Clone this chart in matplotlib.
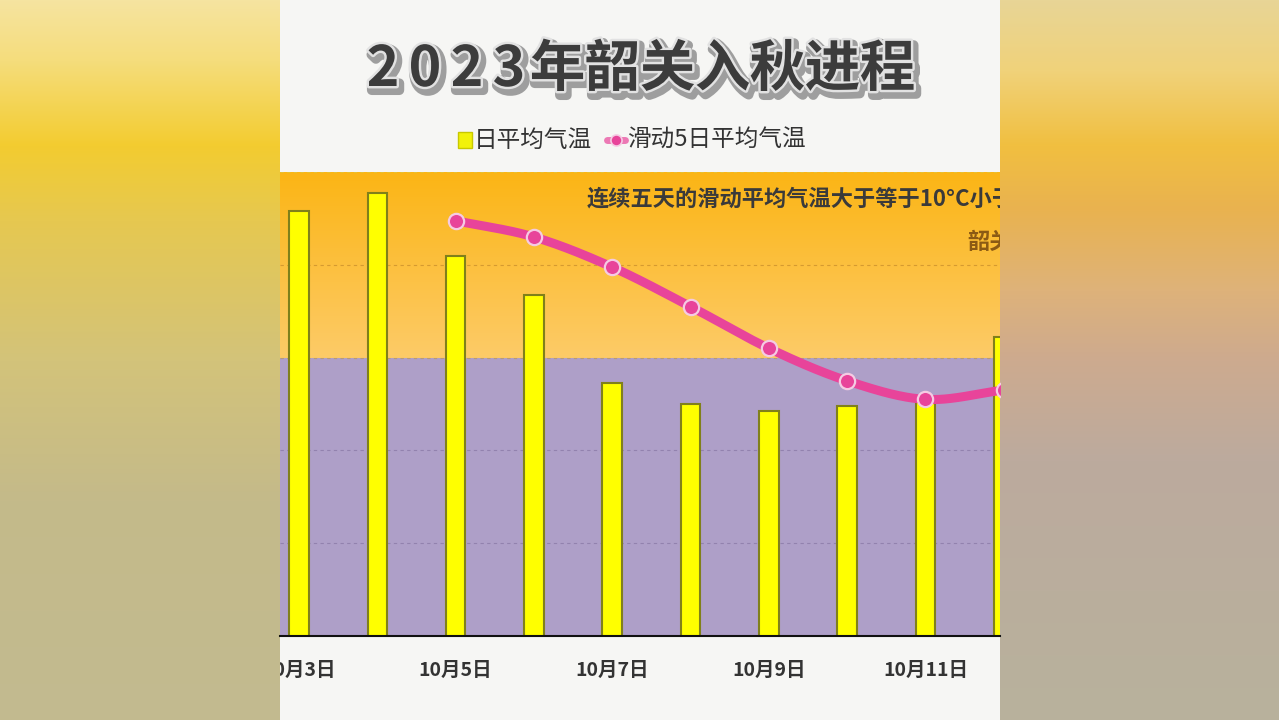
import numpy as np
import matplotlib
matplotlib.use('Agg')
import matplotlib.pyplot as plt
import matplotlib.patheffects as pe
from matplotlib.colors import to_rgb
from matplotlib.patches import Rectangle

# ---------------- data ----------------
dates = ['10月3日', '10月4日', '10月5日', '10月6日', '10月7日',
         '10月8日', '10月9日', '10月10日', '10月11日', '10月12日']
daily_temp = [28.3, 29.1, 26.4, 24.7, 20.9, 20.0, 19.7, 19.9, 20.1, 22.9]
ma_start = 2  # moving average starts at 10月5日
moving_avg = [27.9, 27.2, 25.9, 24.2, 22.4, 21.0, 20.2, 20.6]
threshold = 22
title = '2023年韶关入秋进程'
legend_labels = ['日平均气温', '滑动5日平均气温']
note_text = '连续五天的滑动平均气温大于等于10°C小于22°C'
note_text2 = '韶关入秋'

plt.rcParams['font.family'] = ['Noto Sans CJK SC', 'DejaVu Sans']

W, H = 1279, 720
fig = plt.figure(figsize=(W / 100, H / 100), dpi=100)

# ---------------- background ----------------
bg = fig.add_axes([0, 0, 1, 1])
bg.axis('off')
ys = np.arange(H)


def grad(stops):
    yy = [s[0] for s in stops]
    cols = np.array([to_rgb(s[1]) for s in stops])
    return np.stack([np.interp(ys, yy, cols[:, k]) for k in range(3)], axis=1)


left = grad([(0, '#F5E4A0'), (60, '#F5DD7C'), (145, '#F3CC30'), (220, '#E6C850'),
             (360, '#D3C37A'), (500, '#C4BA8A'), (720, '#C2BA90')])
right = grad([(0, '#E8D596'), (70, '#F0D27A'), (145, '#F1BF40'), (210, '#E9B250'),
              (290, '#DEB27A'), (360, '#CDAA8F'), (460, '#BCAA9E'), (720, '#B8B29C')])
img = np.ones((H, W, 3)) * np.array(to_rgb('#F6F6F4'))
img[:, :280] = left[:, None, :]
img[:, 1000:] = right[:, None, :]
bg.imshow(img, extent=[0, W, H, 0], aspect='auto', zorder=0)
bg.set_xlim(0, W)
bg.set_ylim(H, 0)

# ---------------- title ----------------
x_cur = 362
for ch in title:
    adv = 42 if ch.isdigit() else 55
    bg.text(x_cur + adv / 2, 70, ch, ha='center', va='center', fontsize=40,
            fontweight='heavy', color='#3C3C3C', zorder=5,
            path_effects=[pe.Stroke(linewidth=7, foreground='#9E9E9E', offset=(2, -3)),
                          pe.Stroke(linewidth=3.5, foreground='#E2E2E2'),
                          pe.Normal()])
    x_cur += adv

# ---------------- legend ----------------
bg.add_patch(Rectangle((458, 132), 14, 16, facecolor='#F2F20A', edgecolor='#C8C800',
                       lw=1, zorder=5))
bg.text(474, 140, legend_labels[0], ha='left', va='center', fontsize=17,
        color='#333333', zorder=5)
bg.plot([607, 625], [140, 140], color='#E8449A', lw=5, alpha=0.7, zorder=5,
        solid_capstyle='round')
bg.plot([616], [140], 'o', ms=8, mfc='#E8449A', mec='#F5CBE3', mew=1.2, zorder=6)
bg.text(627, 140, legend_labels[1], ha='left', va='center', fontsize=17,
        color='#333333', zorder=5)

# ---------------- main axes ----------------
ax = fig.add_axes([280 / W, (H - 636) / H, 720 / W, 464 / H])
ax.patch.set_alpha(0)
x = np.arange(len(dates))
px_per_day = 78.3
x0 = (280 - 299) / px_per_day
x1 = (1000 - 299) / px_per_day
ymin, ymax = 10, 30

# orange gradient above threshold
og = grad([(0, '#FBB515'), (720, '#FDCB68')])
ax.imshow(og[:, None, :], extent=[x0, x1, threshold, ymax], aspect='auto', zorder=0)
ax.axhspan(ymin, threshold, color='#AE9FC8', zorder=0, lw=0)

for v, c in [(14, '#9282AE'), (18, '#9282AE'), (22, '#B59A78'), (26, '#D59A30'),
             (30, '#E8C030')]:
    ax.axhline(v, color=c, ls=(0, (3, 3)), lw=0.8, zorder=1)

ax.bar(x, daily_temp, width=0.25, color='#FFFF00', edgecolor='#80801A', lw=1.5,
       zorder=2)


def smooth(xp, yp, n=30):
    xp = np.asarray(xp, float)
    yp = np.asarray(yp, float)
    m = np.gradient(yp, xp)
    xs, ysm = [], []
    for i in range(len(xp) - 1):
        t = np.linspace(0, 1, n)
        h = xp[i + 1] - xp[i]
        h00 = 2 * t**3 - 3 * t**2 + 1
        h10 = t**3 - 2 * t**2 + t
        h01 = -2 * t**3 + 3 * t**2
        h11 = t**3 - t**2
        xs.append(xp[i] + t * h)
        ysm.append(h00 * yp[i] + h10 * h * m[i] + h01 * yp[i + 1] + h11 * h * m[i + 1])
    return np.concatenate(xs), np.concatenate(ysm)


xm = x[ma_start:ma_start + len(moving_avg)]
sx, sy = smooth(xm, moving_avg)
ax.plot(sx, sy, color='#E8449A', lw=6.5, solid_capstyle='round', zorder=4)
ax.plot(xm, moving_avg, 'o', ms=11, mfc='#E8449A', mec='#F5CBE3', mew=1.6, zorder=5)

ax.text((587 - 299) / px_per_day, 28.84, note_text, ha='left', va='center',
        fontsize=16, fontweight='bold', color='#3A3A3A', clip_on=True, zorder=6)
ax.text((967 - 299) / px_per_day, 26.98, note_text2, ha='left', va='center',
        fontsize=16, fontweight='bold', color='#8B5A14', clip_on=True, zorder=6)

ax.set_xlim(x0, x1)
ax.set_ylim(ymin, ymax)
ax.set_xticks([])
ax.set_yticks([])

# x tick labels, clipped to the central panel
panel_clip = Rectangle((280 / W, 0), 720 / W, 1, transform=fig.transFigure,
                       facecolor='none', edgecolor='none')
for i in x[::2]:
    t = ax.text(i, -34 / 464, dates[i], transform=ax.get_xaxis_transform(),
                ha='center', va='center', fontsize=14, fontweight='bold',
                color='#333333', clip_on=True)
    t.set_clip_path(panel_clip)

for s in ['top', 'right', 'left']:
    ax.spines[s].set_visible(False)
ax.spines['bottom'].set_color('#111111')
ax.spines['bottom'].set_linewidth(1.5)
ax.spines['bottom'].set_zorder(6)

fig.savefig('out.png', dpi=100)
